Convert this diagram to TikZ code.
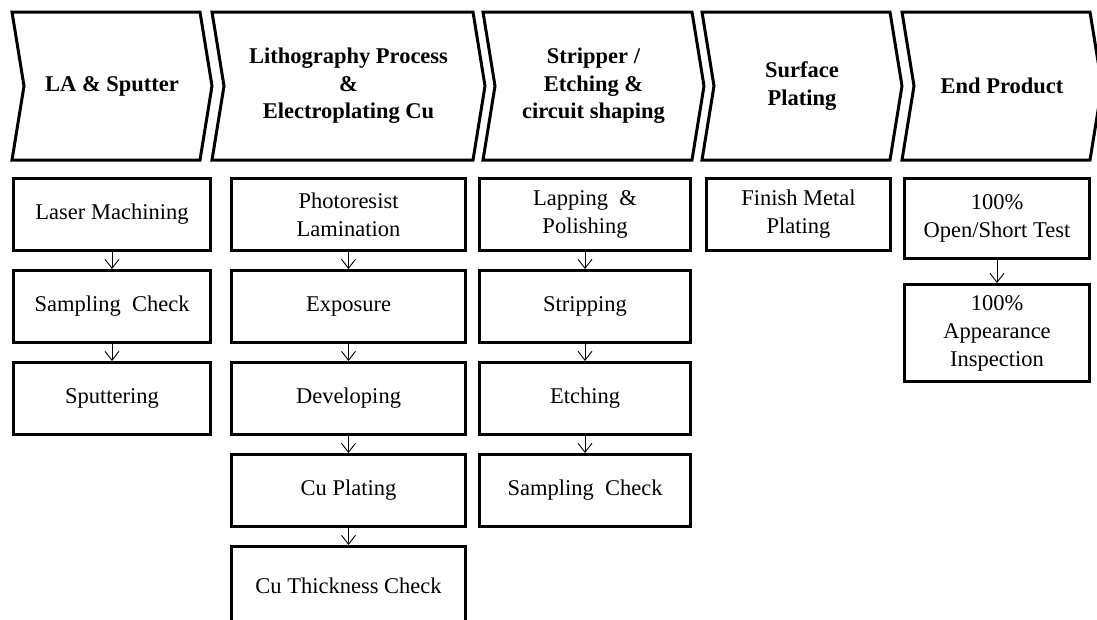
\documentclass[tikz,border=0pt]{standalone}
\usepackage{fontspec}
\setmainfont{Liberation Serif}
\usetikzlibrary{positioning, arrows.meta}

\tikzset{
    stepbox/.style={draw, line width=3pt, minimum height=72pt, align=center, inner sep=2pt,
        font=\fontsize{22.5}{28}\selectfont},
    header/.style={align=center, font=\fontsize{22.5}{27.5}\selectfont\bfseries},
    flow/.style={-{Straight Barb[length=9pt, width=14pt]}, line width=0.9pt},
}

\begin{document}
\begin{tikzpicture}[x=1pt, y=-1pt, node distance=17pt]
    \useasboundingbox (0,0) rectangle (1097,619);

    % chevrons along the top
    \foreach \l/\r/\name/\txt in {12/200/hdla/{LA \& Sputter},
            212/473/hdlitho/{Lithography Process\\\&\\Electroplating Cu},
            483/692/hdstrip/{Stripper /\\Etching \&\\circuit shaping},
            702/890/hdsurf/{Surface\\Plating},
            902/1090/hdend/{End Product}} {
        \draw[line width=3pt, line join=miter] (\l,12) -- (\r,12) -- (\r+12,86) -- (\r,160)
            -- (\l,160) -- (\l+12,86) -- cycle;
        \node[header] (\name) at ({(\l+\r)/2+6},86) {\txt};
    }

    % LA & Sputter
    \begin{scope}[every node/.append style={minimum width=197pt}]
        \node[stepbox] (laser) at (112,214.5) {Laser Machining};
        \node[stepbox, below=of laser] (samplea) {Sampling\ \ Check};
        \node[stepbox, below=of samplea] (sputter) {Sputtering};
    \end{scope}
    \draw[flow] (laser) -- (samplea);
    \draw[flow] (samplea) -- (sputter);

    % lithography & Cu plating
    \begin{scope}[every node/.append style={minimum width=234pt}]
        \node[stepbox] (lamin) at (348.5,214.5) {Photoresist\\Lamination};
        \node[stepbox, below=of lamin] (expose) {Exposure};
        \node[stepbox, below=of expose] (develop) {Developing};
        \node[stepbox, below=of develop] (plating) {Cu Plating};
        \node[stepbox, below=of plating, minimum height=78pt] (thick) {Cu Thickness Check};
    \end{scope}
    \draw[flow] (lamin) -- (expose);
    \draw[flow] (expose) -- (develop);
    \draw[flow] (develop) -- (plating);
    \draw[flow] (plating) -- (thick);

    % stripping & etching
    \begin{scope}[every node/.append style={minimum width=211pt}]
        \node[stepbox] (lapping) at (585,214.5) {Lapping\ \ \&\\Polishing};
        \node[stepbox, below=of lapping] (strip) {Stripping};
        \node[stepbox, below=of strip] (etch) {Etching};
        \node[stepbox, below=of etch] (sampleb) {Sampling\ \ Check};
    \end{scope}
    \draw[flow] (lapping) -- (strip);
    \draw[flow] (strip) -- (etch);
    \draw[flow] (etch) -- (sampleb);

    % surface plating
    \node[stepbox, minimum width=184pt] (finish) at (798.5,214.5) {Finish Metal\\Plating};

    % end product
    \node[stepbox, minimum width=185pt, minimum height=80pt] (opentest) at (997,218.5)
        {100\%\\Open/Short Test};
    \node[stepbox, minimum width=185pt, minimum height=97pt, below=23pt of opentest] (inspect)
        {100\%\\Appearance\\Inspection};
    \draw[flow] (opentest) -- (inspect);
\end{tikzpicture}
\end{document}
